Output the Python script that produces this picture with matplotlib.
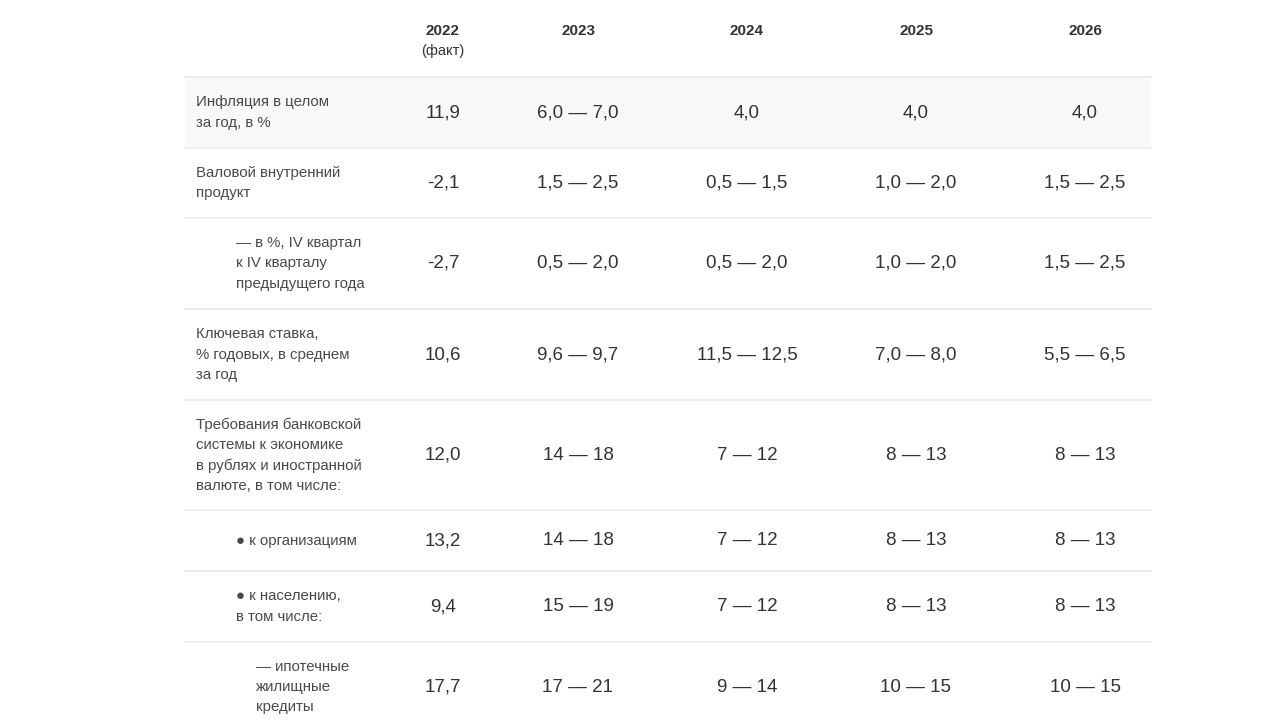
import matplotlib.pyplot as plt
from matplotlib.patches import Rectangle

plt.rcParams['font.family'] = ['Liberation Sans', 'DejaVu Sans']

# ---- данные таблицы ----
years = ["2022", "2023", "2024", "2025", "2026"]
year_notes = ["(факт)", "", "", "", ""]

labels = [
    "Инфляция в целом\nза год, в %",
    "Валовой внутренний\nпродукт",
    "— в %, IV квартал\nк IV кварталу\nпредыдущего года",
    "Ключевая ставка,\n% годовых, в среднем\nза год",
    "Требования банковской\nсистемы к экономике\nв рублях и иностранной\nвалюте, в том числе:",
    "● к организациям",
    "● к населению,\nв том числе:",
    "— ипотечные\nжилищные\nкредиты",
]
indent = [0, 0, 1, 0, 0, 1, 1, 2]

v2022 = ["11,9", "-2,1", "-2,7", "10,6", "12,0", "13,2", "9,4", "17,7"]
v2023 = ["6,0 — 7,0", "1,5 — 2,5", "0,5 — 2,0", "9,6 — 9,7", "14 — 18", "14 — 18", "15 — 19", "17 — 21"]
v2024 = ["4,0", "0,5 — 1,5", "0,5 — 2,0", "11,5 — 12,5", "7 — 12", "7 — 12", "7 — 12", "9 — 14"]
v2025 = ["4,0", "1,0 — 2,0", "1,0 — 2,0", "7,0 — 8,0", "8 — 13", "8 — 13", "8 — 13", "10 — 15"]
v2026 = ["4,0", "1,5 — 2,5", "1,5 — 2,5", "5,5 — 6,5", "8 — 13", "8 — 13", "8 — 13", "10 — 15"]
values = [v2022, v2023, v2024, v2025, v2026]

# ---- раскладка (в пикселях) ----
row_edges = [77, 148, 218, 309, 400, 510, 571, 642, 732]
col_x = [443, 578, 747, 916, 1085]
left, right = 185, 1151
label_x = [196, 236, 256]

fig = plt.figure(figsize=(12.8, 7.2), dpi=100)
ax = fig.add_axes([0, 0, 1, 1])
ax.set_xlim(0, 1280)
ax.set_ylim(720, 0)
ax.axis("off")

# заголовок
for x, y, n in zip(col_x, years, year_notes):
    ax.text(x, 31, y, ha="center", va="center", fontsize=11, fontweight="bold",
            color="#333333")
    if n:
        ax.text(x, 51, n, ha="center", va="center", fontsize=10.5,
                color="#333333")

# фон первой строки
ax.add_patch(Rectangle((left, row_edges[0]), right - left, row_edges[1] - row_edges[0],
                       facecolor="#f8f8f8", edgecolor="none", zorder=0))

# линии
for y in row_edges[:-1]:
    ax.plot([left, right], [y, y], color="#ebebeb", lw=1.3, zorder=1)

# строки
for i, lab in enumerate(labels):
    yc = (row_edges[i] + row_edges[i + 1]) / 2
    if i == len(labels) - 1:
        yc = 687
    ax.text(label_x[indent[i]], yc, lab, ha="left", va="center", fontsize=10.8,
            color="#4a4a4a", linespacing=1.55)
    for x, col in zip(col_x, values):
        ax.text(x, yc, col[i], ha="center", va="center", fontsize=13.5,
                color="#333333")

fig.savefig("out.png", dpi=100, facecolor="white")
